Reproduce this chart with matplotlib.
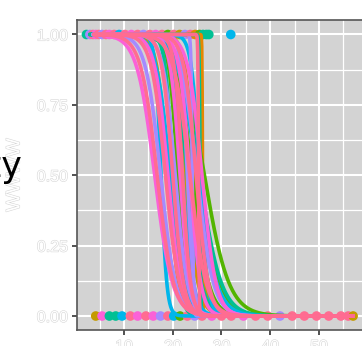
import numpy as np
import matplotlib.pyplot as plt
import matplotlib.patheffects as pe

# group colours (ggplot hue-like)
group_colors = ['#C49A00', '#E58700', '#53B400', '#00C094', '#00B6EB',
                '#A58AFF', '#FB61D7', '#FF6C91']

# observed outcomes: x position and group for y = 1 and y = 0
x_one = [2.3, 3.0, 3.6, 4.2, 4.8, 5.5, 6.3, 7.0, 8.0, 9.0, 10.2, 11.5, 12.8,
         14.0, 15.3, 16.5, 17.8, 19.0, 20.2, 21.4, 22.5, 23.6, 24.6, 25.5,
         26.2, 26.9, 27.4, 31.9]
g_one = [3, 5, 7, 6, 7, 5, 7, 6, 7, 4, 7, 6, 7, 5, 7, 6, 7, 2, 7, 0, 5, 7,
         1, 2, 3, 3, 3, 4]
x_zero = [4.2, 5.5, 7.0, 8.3, 9.6, 11.3, 12.8, 14.5, 16.0, 17.5, 19.0, 20.2,
          21.5, 23.0, 24.5, 26.0, 28.0, 30.0, 32.0, 34.5, 37.0, 39.5, 42.0,
          44.5, 47.0, 49.5, 52.0, 54.5, 56.0, 57.0]
g_zero = [0, 6, 3, 3, 4, 7, 6, 7, 6, 5, 7, 4, 2, 7, 5, 7, 6, 7, 7, 6, 7, 7,
          5, 7, 7, 7, 7, 7, 7, 0]

# fitted logistic curves: group, midpoint, rate, x range
curve_group = [0, 0, 0, 0,
               1, 1,
               2, 2, 2, 2,
               3, 3, 3, 3,
               4, 4, 4, 4, 4,
               5, 5, 5, 5, 5,
               6, 6, 6, 6, 6,
               7, 7, 7, 7, 7, 7, 7]
curve_mid = [19.0, 22.5, 24.5, 25.8,
             23.0, 26.1,
             21.0, 24.0, 26.5, 25.5,
             20.0, 23.0, 25.5, 25.6,
             17.6, 19.5, 22.0, 25.0, 25.5,
             17.5, 20.5, 23.0, 25.0, 24.0,
             16.3, 19.0, 21.5, 23.5, 26.0,
             16.8, 18.5, 20.0, 22.0, 23.5, 24.8, 25.3]
curve_rate = [0.9, 0.75, 1.0, 20.0,
              0.8, 20.0,
              1.1, 0.6, 0.40, 0.48,
              1.3, 0.7, 0.45, 12.0,
              1.7, 0.7, 0.9, 0.5, 1.2,
              0.65, 0.8, 1.5, 0.6, 8.0,
              0.55, 0.75, 1.0, 0.9, 0.7,
              0.6, 0.7, 0.9, 1.2, 0.6, 0.8, 15.0]
curve_xmin = [3.8, 3.8, 3.8, 3.8,
              4.0, 4.0,
              3.5, 3.5, 3.5, 3.5,
              3.0, 3.0, 3.0, 3.0,
              4.0, 4.0, 4.0, 4.0, 4.0,
              3.6, 3.6, 3.6, 3.6, 3.6,
              4.2, 4.2, 4.2, 4.2, 4.2,
              3.8, 3.8, 3.8, 3.8, 3.8, 3.8, 3.8]
curve_xmax = [57.0] * len(curve_group)

xticks = [10, 20, 30, 40, 50]
yticks = [0.0, 0.25, 0.5, 0.75, 1.0]
ytick_labels = ['0.00', '0.25', '0.50', '0.75', '1.00']

fig = plt.figure(figsize=(3.62, 3.46), dpi=100)
ax = fig.add_axes([77 / 362, 16 / 346, 300 / 362, 310 / 346])
ax.set_facecolor('#D3D3D3')

ax.set_xlim(0.36, 0.36 + 300 / 4.875)
ax.set_ylim(-0.0497, 1.0515)

ax.set_xticks(xticks)
ax.set_xticks(np.arange(5, 61, 10), minor=True)
ax.set_yticks(yticks)
ax.set_yticks([0.125, 0.375, 0.625, 0.875], minor=True)
ax.set_yticklabels(ytick_labels)
ax.grid(True, which='major', color='white', lw=1.5)
ax.grid(True, which='minor', color='white', lw=0.9)
ax.set_axisbelow(True)

outline = [pe.withStroke(linewidth=0.8, foreground='#D6D6D6')]
ax.tick_params(which='major', length=3.5, width=1.2, color='#333333',
               labelsize=11.5, labelcolor='white', pad=3)
ax.tick_params(which='minor', length=0)
for lab in ax.get_xticklabels() + ax.get_yticklabels():
    lab.set_path_effects(outline)
    lab.set_fontfamily('Liberation Sans')

for side in ['left', 'bottom', 'top', 'right']:
    ax.spines[side].set_color('#555555')
    ax.spines[side].set_linewidth(1.2)

# points
ax.scatter(x_one, [1] * len(x_one), s=48, c=[group_colors[g] for g in g_one],
           zorder=3, linewidths=0)
ax.scatter(x_zero, [0] * len(x_zero), s=48, c=[group_colors[g] for g in g_zero],
           zorder=3, linewidths=0)

# curves, drawn group by group
order = np.argsort(curve_group, kind='stable')
for i in order:
    xs = np.linspace(curve_xmin[i], curve_xmax[i], 600)
    ys = 1 / (1 + np.exp(curve_rate[i] * (xs - curve_mid[i])))
    ax.plot(xs, ys, color=group_colors[curve_group[i]], lw=2.6,
            solid_capstyle='round', zorder=4)

# y axis title (outlined) and overlapping black text
fig.text(15 / 362, 1 - 175 / 346, 'WWWW', rotation=90, ha='center', va='center',
         fontsize=14, color='white', fontfamily='Liberation Sans',
         path_effects=outline)
fig.text(22 / 362, 1 - 177 / 346, 'Probability', ha='right', va='baseline',
         fontsize=25, color='black')

fig.savefig('out.png', dpi=100)
